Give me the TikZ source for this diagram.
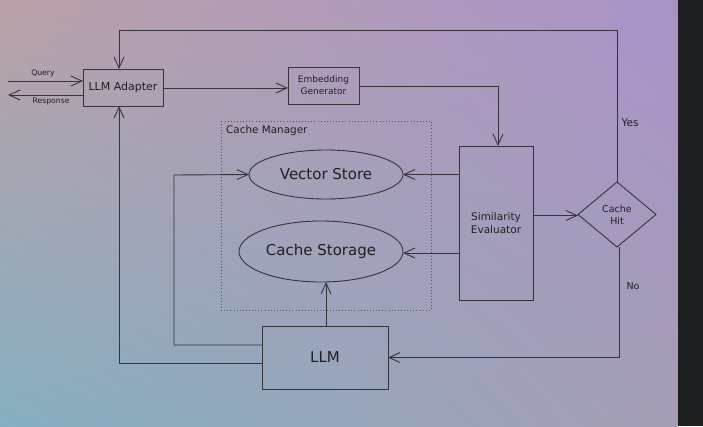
\documentclass[tikz,border=0pt]{standalone}
\usepackage{fontspec}
\setmainfont{DejaVu Sans}
\usetikzlibrary{shapes.geometric,arrows.meta,shadings}
\definecolor{ink}{HTML}{34343A}
\definecolor{txt}{HTML}{202024}
\definecolor{dark}{HTML}{1E1F21}
\definecolor{bgUL}{HTML}{BBA1A9}
\definecolor{bgUR}{HTML}{A893C9}
\definecolor{bgLL}{HTML}{85AFC0}
\definecolor{bgLR}{HTML}{A59DB4}
\tikzset{
  boxnode/.style={draw=ink, line width=0.9pt, inner sep=0pt, outer sep=0pt, align=center, text=txt},
  ellnode/.style={ellipse, draw=ink, line width=0.9pt, inner sep=0pt, outer sep=0pt, text=txt},
  decnode/.style={diamond, draw=ink, line width=0.9pt, inner sep=0pt, outer sep=0pt, align=center, text=txt},
  lbl/.style={text=txt, inner sep=0pt},
  arr/.style={draw=ink, line width=0.9pt, -{Straight Barb[length=11pt,width=10pt]}},
}
\begin{document}
\begin{tikzpicture}[x=1pt,y=-1pt]
\useasboundingbox (0,0) rectangle (703,426);
\shade[upper left=bgUL, upper right=bgUR, lower left=bgLL, lower right=bgLR] (0,0) rectangle (678,426);
\fill[dark] (678,0) rectangle (703,426);

% cache manager group
\draw[ink!85, line width=0.8pt, dash pattern=on 0.9pt off 2.2pt] (221,121) rectangle (431,310);
\node[lbl, anchor=west, font=\fontsize{10.4}{12}\selectfont] (cmlbl) at (226,131) {Cache Manager};

% nodes
\node[boxnode, minimum width=80pt, minimum height=37pt, font=\fontsize{11}{13}\selectfont] (adapter) at (123,87.5) {LLM Adapter};
\node[boxnode, minimum width=71pt, minimum height=37pt, font=\fontsize{9}{12}\selectfont] (embed) at (323.5,85.5) {Embedding\\Generator};
\node[boxnode, minimum width=74pt, minimum height=154pt, font=\fontsize{10.5}{13.5}\selectfont] (sim) at (496,223) {Similarity\\Evaluator};
\node[boxnode, minimum width=126pt, minimum height=63pt, font=\fontsize{15}{17}\selectfont] (llm) at (325,357.5) {LLM};
\node[ellnode, minimum width=154pt, minimum height=49pt, font=\fontsize{15}{17}\selectfont] (vs) at (326,174.5) {Vector Store};
\node[ellnode, minimum width=164pt, minimum height=61pt, font=\fontsize{15}{17}\selectfont] (cs) at (321,251.5) {Cache Storage};
\node[decnode, minimum width=78pt, minimum height=65pt, font=\fontsize{9.5}{12}\selectfont] (hit) at (617,214.5) {Cache\\Hit};

% coordinates
\coordinate (qstart) at (8,81);
\coordinate (rend) at (8,95);
\coordinate (ytop) at (119,30);
\coordinate (vsbend) at (174,175);

% connectors
\draw[arr] (qstart) -- (qstart -| adapter.west);
\draw[arr] (adapter.west |- rend) -- (rend);
\node[lbl, font=\fontsize{7.7}{9}\selectfont] (qlbl) at (43,73) {Query};
\node[lbl, font=\fontsize{7.7}{9}\selectfont] (rlbl) at (51,101) {Response};

\draw[arr] ([yshift=-0.5pt]adapter.east) -- ([yshift=-0.5pt]adapter.east -| embed.west);
\draw[arr] ([yshift=-0.5pt]embed.east) -| ([xshift=2pt]sim.north);
\draw[arr] (sim.west |- vs.east) -- (vs.east);
\draw[arr] ([yshift=-1.5pt]sim.west |- cs.east) -- ([yshift=-1.5pt]cs.east);
\draw[arr] ([yshift=-1pt]sim.east |- hit.west) -- ([yshift=-1pt]hit.west);

\draw[arr] (hit.north) |- (ytop) -- ([xshift=-4pt]adapter.north);
\node[lbl, font=\fontsize{10.5}{12}\selectfont] (yes) at (630,123) {Yes};

\draw[arr] ([xshift=2pt]hit.south) |- (llm.east);
\node[lbl, font=\fontsize{9.5}{12}\selectfont] (no) at (633,286) {No};

\draw[arr] ([xshift=1pt]llm.north) -- ([xshift=1pt]llm.north |- cs.south);
\draw[arr] ([yshift=12.5pt]llm.west) -| (vsbend) -- (vs.west);
\draw[arr] ([yshift=-5.5pt]llm.west) -| ([xshift=-4pt]adapter.south);
\end{tikzpicture}
\end{document}
